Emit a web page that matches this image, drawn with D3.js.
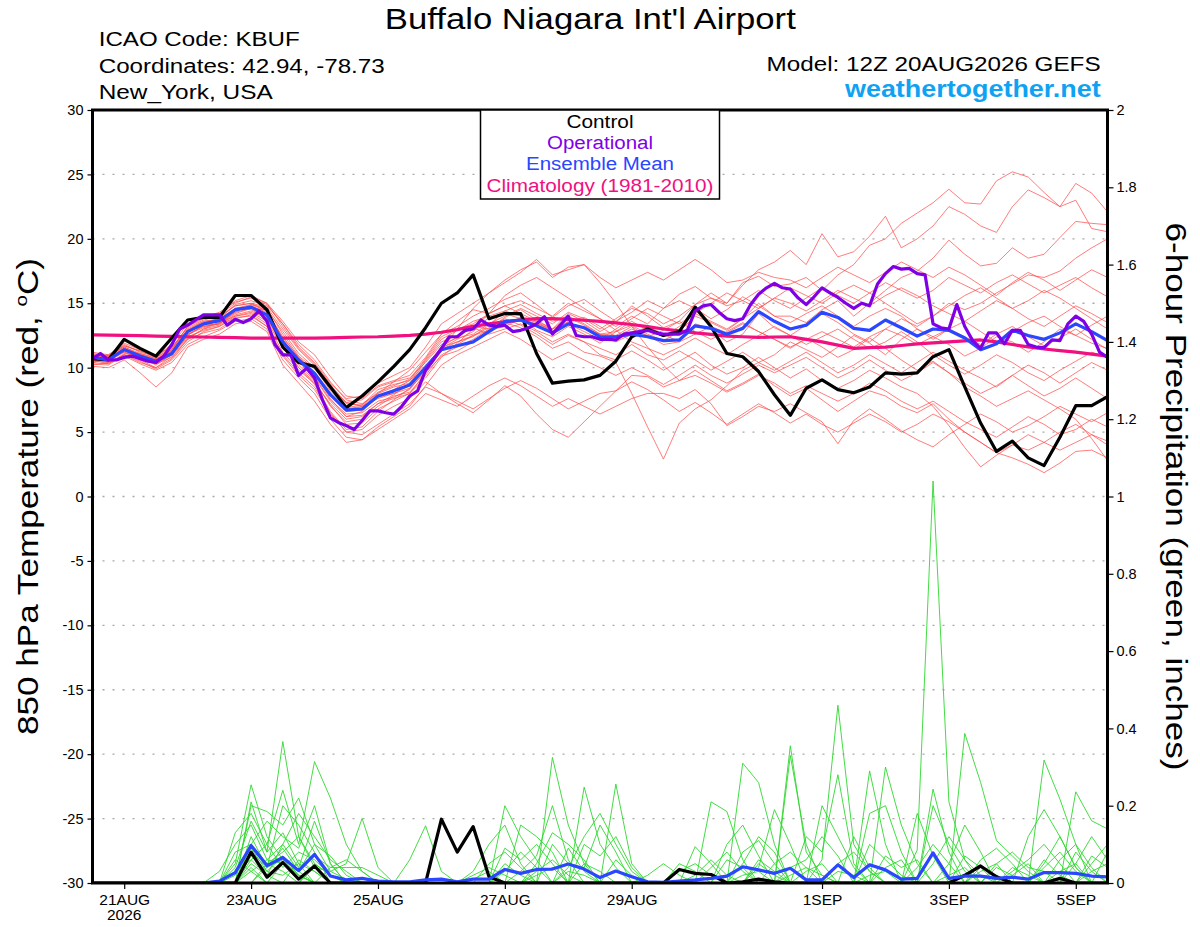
<!DOCTYPE html>
<html><head><meta charset="utf-8">
<script src="https://cdn.jsdelivr.net/npm/d3@7"></script>
<style>
body{margin:0;background:#fff}
svg{display:block}
text{font-family:"Liberation Sans",Arial,Helvetica,sans-serif}
</style>
</head><body>
<svg id="c" width="1200" height="927"></svg>
<script>
// ---------------- DATA ----------------
const runStartUTC = Date.UTC(2026, 7, 20, 12);   // first forecast step, 6-hourly steps
const tickDates = ["2026-08-21","2026-08-23","2026-08-25","2026-08-27","2026-08-29","2026-09-01","2026-09-03","2026-09-05"];
const tickLabels = ["21AUG","23AUG","25AUG","27AUG","29AUG","1SEP","3SEP","5SEP"];
const tempTicks = [-30,-25,-20,-15,-10,-5,0,5,10,15,20,25,30];
const precipTicks = [0,0.2,0.4,0.6,0.8,1,1.2,1.4,1.6,1.8,2];

// Control run 850 hPa temperature (6-hourly)
const controlTemp = [10.7,10.6,12.2,11.5,10.9,12.3,13.7,13.9,13.9,15.6,15.6,14.5,11.6,10.4,10.1,8.5,6.9,7.8,8.9,10.1,11.4,13.1,
 15.0,15.8,17.2,13.8,14.2,14.2,11.1,8.8,8.95,9.05,9.4,
 10.5,12.4,13.0,12.5,12.8,14.7,13.2,11.1,10.85,9.7,7.9,
 6.3,8.4,9.05,8.3,8.05,8.5,9.6,9.5,9.6,10.85,11.4,
 8.5,5.7,3.5,4.3,3.0,2.4,4.6,7.05,7.05,7.75];

// Operational run 850 hPa temperature (3-hourly)
const operTemp = [10.7,11.1,10.6,10.6,10.8,10.9,10.7,10.5,10.4,10.9,11.8,13.0,13.3,13.7,14.1,14.1,14.1,13.3,13.75,13.5,
 13.8,14.4,13.6,11.8,11.0,11.0,9.4,9.95,9.2,7.5,6.1,5.75,5.5,5.2,5.9,6.65,6.65,6.5,6.4,7.0,
 7.8,8.2,9.8,10.6,11.5,12.4,12.4,12.9,13.0,13.7,13.3,13.2,13.3,12.8,12.9,13.1,13.4,13.95,12.6,13.3,
 14.0,12.5,12.4,12.4,12.2,12.2,12.15,12.6,12.7,12.8,12.9,12.7,12.6,12.6,12.6,12.9,14.4,14.8,14.9,14.3,
 13.8,13.65,13.8,14.9,15.7,16.2,16.55,16.2,16.1,15.4,14.9,15.5,16.2,15.8,15.45,15.0,14.6,15.0,14.8,16.5,
 17.3,17.85,17.65,17.7,17.3,17.2,13.4,13.1,13.0,14.9,13.2,12.1,11.5,12.7,12.7,11.85,12.9,12.9,11.8,11.6,
 11.55,12.15,12.1,13.4,14.0,13.6,12.6,11.2,10.8];

// Ensemble mean 850 hPa temperature (6-hourly)
const meanTemp = [10.8,10.6,11.4,10.9,10.5,11.1,12.8,13.4,13.65,14.5,14.7,14.1,12.0,10.6,9.55,7.9,6.7,6.8,7.8,8.2,8.65,10.0,
 11.4,11.7,12.0,12.8,13.6,13.7,13.25,12.7,13.4,13.1,12.4,
 12.4,12.6,12.4,12.1,12.15,13.25,13.05,12.6,13.05,14.35,13.6,
 13.0,13.3,14.3,13.9,13.05,12.9,13.7,13.1,12.45,13.0,12.9,
 12.3,11.4,11.85,12.9,12.5,12.2,12.7,13.4,12.8,12.1];

// Climatology 1981-2010 (6-hourly)
const climTemp = [12.55,12.53,12.5,12.48,12.45,12.43,12.4,12.38,12.35,12.33,12.3,12.3,12.3,12.3,12.3,12.32,12.35,12.38,12.4,12.45,
 12.5,12.6,12.75,12.95,13.2,13.4,13.55,13.7,13.8,13.8,13.75,13.68,13.6,13.48,13.35,13.18,13.0,12.85,12.7,12.58,
 12.45,12.4,12.35,12.38,12.4,12.2,12.0,11.75,11.5,11.55,11.6,11.72,11.85,11.92,12.0,12.08,12.15,12.0,11.8,11.62,
 11.45,11.32,11.2,11.05,10.9];

// Ensemble members 850 hPa temperature (6-hourly)
const tempMembers = [
 [10.4,10.7,11.5,11.0,10.6,11.4,13.2,13.9,14.3,15.1,15.4,14.9,13.4,11.8,10.6,8.9,7.5,7.2,8.0,8.9,9.8,11.2,
  12.6,13.2,14.0,14.6,15.3,15.8,14.9,13.9,14.8,15.3,14.4, 13.6,14.3,15.2,14.6,15.7,16.3,15.4,15.0,16.6,17.1,16.3,
  16.5,17.0,16.0,17.2,18.0,19.5,20.0,21.2,22.0,22.8,23.85, 22.8,22.7,24.5,25.2,24.8,23.6,22.5,24.3,23.55,22.1],
 [10.9,10.5,11.2,10.8,10.2,11.0,12.5,13.3,13.9,14.8,15.0,14.4,12.2,10.5,9.2,7.4,6.2,6.3,7.2,7.9,8.8,10.5,
  12.0,12.5,13.2,13.0,13.9,14.5,13.7,13.0,14.2,13.6,12.8, 13.5,14.8,14.0,13.1,13.6,14.9,15.8,15.0,16.4,17.6,18.2,
  19.1,18.0,20.4,18.6,19.0,20.2,21.75,19.3,20.0,21.0,22.5, 21.9,21.0,20.5,22.5,23.8,23.2,22.5,23.0,20.8,20.55],
 [11.0,10.9,11.8,11.2,10.9,11.6,12.9,13.2,13.4,14.2,14.6,14.5,12.8,11.1,10.0,8.2,6.9,7.1,8.3,8.7,9.0,10.2,
  11.5,12.2,12.8,13.9,14.2,13.8,12.9,12.4,13.2,12.6,11.9, 12.8,13.3,12.6,12.1,12.8,14.0,13.5,12.9,13.8,15.0,14.0,
  14.0,13.5,14.5,15.2,14.0,15.0,16.0,17.0,17.5,18.5,19.9, 18.8,17.9,18.1,19.3,18.5,18.8,20.1,21.35,21.2,21.1],
 [10.6,10.4,11.0,10.7,10.3,10.8,12.2,13.0,13.5,14.3,14.9,14.6,12.6,10.9,9.9,8.4,7.3,7.0,7.6,8.0,8.4,9.6,
  10.9,11.3,12.0,12.9,13.4,13.9,13.5,12.8,13.6,13.9,13.2, 12.4,13.0,12.5,11.8,12.0,13.4,13.0,12.0,12.6,14.2,13.1,
  12.5,13.3,14.2,13.5,12.6,12.0,13.0,13.8,13.2,14.0,15.0, 14.5,15.0,15.8,16.5,17.2,17.0,17.5,18.5,19.3,20.0],
 [10.7,10.9,11.6,11.0,10.4,11.2,12.6,13.1,13.5,14.0,14.3,13.6,11.5,10.2,9.0,7.0,5.8,6.0,7.0,7.8,8.1,9.4,
  11.0,11.6,12.2,13.0,13.5,13.1,12.4,11.5,12.0,11.2,10.9, 10.4,8.0,5.4,2.9,5.7,6.8,7.5,8.6,9.8,10.4,11.0,
  12.0,11.4,10.8,11.6,12.5,11.9,11.0,12.2,13.0,12.4,11.8, 10.9,11.5,12.4,12.0,11.2,12.0,13.0,12.5,11.9,11.5],
 [10.3,10.2,11.0,10.5,9.9,10.6,12.0,12.8,13.2,13.9,14.0,13.2,11.0,9.6,8.5,6.5,5.0,4.8,5.6,6.4,7.2,8.5,
  8.0,7.2,6.5,7.5,8.6,7.8,6.4,5.2,4.6,5.8,7.0, 8.2,9.4,9.3,8.5,9.0,9.8,9.0,8.2,8.8,9.5,8.6,
  7.8,8.4,7.5,6.6,7.4,8.2,7.8,7.0,6.5,7.2,6.0, 5.0,4.2,3.4,3.0,2.5,1.85,2.6,3.5,3.6,3.0],
 [10.9,10.7,11.3,11.1,10.7,11.3,12.9,13.6,13.7,14.6,14.5,13.9,11.8,10.0,8.7,6.6,5.2,5.4,6.6,7.5,8.4,9.9,
  11.6,12.4,13.1,12.6,13.0,13.4,12.8,12.0,12.6,12.0,11.0, 10.6,11.3,10.6,9.8,10.5,11.2,10.2,9.5,10.0,10.8,10.0,
  9.2,9.9,9.0,8.4,9.0,9.8,9.2,8.5,8.0,7.0,5.5, 3.8,2.3,3.2,4.0,3.6,4.2,5.0,5.6,4.8,4.3],
 [10.5,10.6,11.4,10.8,10.6,11.0,12.5,13.3,13.4,14.4,14.8,14.3,12.4,10.8,9.6,7.6,6.2,6.6,7.8,8.3,9.0,10.6,
  12.2,12.9,13.6,14.0,14.4,14.0,13.6,13.0,13.9,13.3,12.6, 12.5,13.2,12.4,12.9,13.6,12.8,12.2,12.8,13.5,12.8,12.2,
  11.5,12.3,11.6,10.8,11.4,12.3,11.5,10.6,9.8,10.5,9.6, 8.5,7.8,7.0,7.6,8.2,7.5,6.8,6.0,4.5,2.8],
 [11.2,11.0,11.9,11.4,10.9,11.8,13.4,14.0,14.2,15.2,15.6,15.0,13.6,12.0,11.0,9.3,7.8,7.6,8.6,9.0,9.4,10.8,
  12.6,13.6,14.5,14.2,14.8,15.2,14.6,14.0,15.0,14.4,13.8, 13.2,14.0,13.4,14.6,15.2,14.6,13.8,14.5,15.5,14.8,14.0,
  13.5,14.2,14.8,14.0,13.2,14.0,14.6,14.0,13.0,12.2,13.0, 13.6,12.8,12.0,12.8,13.5,14.0,13.2,12.5,13.3,14.0],
 [10.2,10.4,10.9,10.3,9.8,10.4,11.8,12.4,12.9,13.6,13.8,13.0,10.6,9.2,8.0,6.0,4.6,4.4,5.2,6.0,6.8,8.0,
  7.5,7.0,7.8,8.6,9.2,8.6,7.8,7.0,7.6,7.0,6.4, 7.0,7.6,8.0,8.0,7.6,8.3,7.2,5.5,6.2,7.0,6.6,
  7.2,6.5,5.8,4.1,5.9,6.8,6.0,5.1,4.4,3.85,4.8, 5.6,6.4,5.8,5.0,5.5,6.2,7.0,6.4,5.8,6.5],
 [10.6,10.3,11.1,10.9,10.5,11.0,12.4,12.9,13.2,14.0,14.2,13.4,11.2,9.8,8.8,7.2,6.0,6.2,7.2,7.6,8.0,9.2,
  10.8,11.9,13.0,14.2,15.6,16.4,17.0,16.2,15.4,14.6,13.8, 12.9,12.0,11.5,11.0,11.6,12.3,11.6,11.0,11.8,12.5,13.2,
  12.5,11.8,12.4,13.0,12.2,11.5,12.0,12.8,12.0,11.0,10.2, 9.5,10.2,11.0,10.4,9.6,9.0,9.8,10.5,11.2,10.8],
 [10.8,11.0,11.7,11.3,11.0,11.6,13.1,13.7,14.0,14.8,15.0,14.7,13.0,11.4,10.2,8.6,7.3,7.5,8.5,8.9,9.2,10.4,
  11.8,12.3,12.6,13.4,14.0,14.6,14.0,13.4,14.3,13.8,13.0, 13.8,14.6,14.2,13.4,14.0,14.9,15.4,14.8,15.2,16.0,15.2,
  14.6,15.4,16.2,15.6,15.0,15.8,16.6,16.0,15.4,16.0,17.0, 16.4,15.8,16.6,17.2,16.5,15.8,16.4,17.0,16.2,15.5],
 [10.4,10.8,11.2,10.6,10.0,10.9,12.3,13.0,13.3,14.1,14.4,13.8,11.9,10.4,9.3,7.5,6.4,6.5,7.4,7.7,8.3,9.8,
  11.3,11.8,12.5,13.1,13.8,13.3,12.6,11.8,12.5,12.0,11.5, 11.0,11.8,11.0,10.6,11.3,10.6,9.8,10.5,11.2,10.4,9.8,
  10.5,11.2,10.4,9.6,10.2,11.0,10.3,9.6,10.4,11.2,10.5, 9.8,9.2,8.5,9.4,10.2,9.6,8.8,9.6,10.4,9.8],
 [11.0,10.8,11.5,11.0,10.6,11.3,12.8,13.4,13.6,14.6,14.9,14.4,12.3,10.8,9.7,8.0,6.8,7.0,8.0,8.5,8.8,10.1,
  11.6,12.0,12.4,13.3,14.4,14.9,14.2,13.6,14.0,13.4,12.6, 12.8,13.6,12.9,12.4,13.2,14.2,13.6,13.0,13.8,14.6,15.4,
  15.0,14.4,15.2,16.0,15.4,14.8,15.6,16.2,15.6,14.8,14.2, 13.6,14.4,15.2,14.6,13.8,13.2,14.0,14.8,14.2,13.5],
 [10.6,10.5,11.3,10.7,10.3,11.0,12.6,13.2,13.4,14.3,14.6,13.8,11.6,10.0,8.9,7.1,5.6,5.7,6.8,7.4,8.0,9.6,
  11.4,13.0,14.6,15.8,16.8,17.6,18.2,17.0,17.8,18.0,16.6, 15.0,13.2,11.6,10.2,9.0,9.4,8.8,8.1,8.7,9.4,8.8,
  8.0,8.6,8.0,7.4,8.0,8.8,8.2,7.4,6.8,7.4,6.6, 5.8,5.2,4.6,5.4,6.2,5.6,4.8,5.2,6.0,5.4],
 [10.9,10.6,11.4,11.0,10.7,11.2,12.9,13.5,13.8,14.6,14.7,14.0,12.0,10.6,9.5,7.8,6.6,6.7,7.7,8.0,8.6,9.9,
  11.4,12.0,12.5,12.9,13.2,13.8,13.4,13.0,13.5,13.0,12.6, 12.0,12.6,13.2,12.6,12.0,12.6,13.2,12.7,13.4,12.8,12.2,
  11.6,12.2,12.8,12.2,11.6,12.4,13.0,12.5,11.8,12.4,13.0, 12.4,11.8,12.6,13.2,12.4,11.7,12.3,13.0,12.2,11.4],
 [10.1,10.0,10.6,9.6,8.5,9.6,11.6,12.2,12.6,13.4,13.6,12.8,10.2,8.8,7.4,5.6,4.2,4.4,5.4,6.2,7.0,8.6,
  10.2,11.0,11.6,12.2,12.8,12.2,11.4,10.6,11.2,10.6,10.0, 9.4,10.0,9.4,8.7,9.4,10.2,9.4,8.8,9.5,10.2,9.6,
  10.2,10.8,10.0,9.2,9.8,10.6,9.8,9.0,9.6,10.4,9.6, 8.8,8.0,8.6,9.4,8.6,7.8,8.4,9.2,8.4,7.6],
 [10.8,10.9,11.6,11.1,10.8,11.4,13.0,13.6,13.8,14.9,15.2,14.8,13.4,11.6,10.4,8.8,7.6,7.8,8.8,9.4,10.0,11.6,
  13.4,14.2,15.0,15.8,16.6,17.4,18.4,17.2,17.6,18.0,17.0, 16.2,16.8,17.4,16.8,17.6,18.4,17.6,16.6,16.8,17.4,17.0,
  16.8,16.2,17.0,17.8,17.2,16.6,17.4,18.2,17.6,17.0,17.8, 17.2,16.4,15.6,16.6,17.4,16.8,16.0,16.8,17.6,17.0],
 [10.4,10.3,11.0,10.4,10.0,10.7,12.2,12.7,13.0,13.8,14.1,13.2,10.9,9.4,8.3,6.4,5.0,5.2,6.3,7.0,7.6,8.9,
  8.0,7.4,6.8,7.6,8.4,9.0,8.4,7.6,6.8,7.4,8.0, 8.2,8.9,8.3,7.5,6.6,7.3,6.5,5.6,6.4,7.2,6.5,
  5.7,6.4,5.6,5.0,5.7,6.4,5.8,5.0,5.6,6.4,5.8, 5.0,4.2,3.4,4.0,4.8,4.2,3.6,4.2,4.8,4.0],
 [11.1,10.9,11.7,11.3,10.8,11.5,13.2,13.8,14.1,15.0,15.5,15.0,13.2,11.5,10.3,8.7,7.2,7.1,8.1,8.6,9.1,10.7,
  12.4,13.0,13.4,14.2,14.8,14.2,13.6,12.8,13.4,12.8,12.2, 13.0,13.8,14.6,14.0,13.4,14.2,15.0,15.8,15.2,14.6,15.4,
  16.2,15.6,15.0,15.8,16.4,15.8,15.0,14.2,13.4,14.0,14.8, 15.6,16.2,15.4,14.6,15.2,16.0,15.4,14.6,13.8,13.0]
];

// 6-hour precipitation (inches): control and ensemble mean (6-hourly)
const controlPrecip = [0,0,0,0,0,0,0,0,0,0,0.08,0.015,0.053,0.01,0.044,0,0,0,0,0,0,0,
 0.165,0.08,0.146,0.016,0,0,0,0,0,0,0, 0,0,0,0,0.035,0.025,0.022,0,0.003,0.01,0.003,
 0,0,0,0,0,0,0,0,0,0,0, 0.02,0.044,0.016,0,0,0,0.012,0,0,0];
const meanPrecip = [0,0,0,0,0,0,0,0,0.005,0.027,0.097,0.045,0.066,0.032,0.074,0.018,0.008,0.012,0.005,0.003,0.003,0.008,
 0.01,0.003,0.01,0.01,0.035,0.025,0.035,0.036,0.049,0.036,0.014, 0.031,0.016,0.003,0.002,0.005,0.008,0.012,0.018,0.042,0.034,0.025,
 0.038,0.008,0.008,0.047,0.014,0.047,0.034,0.01,0.012,0.078,0.012, 0.018,0.018,0.012,0.015,0.01,0.027,0.027,0.025,0.018,0.016];

// Ensemble members precipitation: [forecast step, inches]; all other steps are 0
const precipMembers = [
 [[9,.05],[10,.254],[11,.12],[12,.06],[13,.02],[26,.03],[27,.08],[28,.04],[41,.05],[42,.12],[43,.08],[52,.085],[53,1.04],[54,.21],[55,.06],[56,.02]],
 [[10,.21],[11,.08],[12,.366],[13,.12],[14,.05],[15,.02],[29,.325],[30,.15],[31,.05],[46,.06],[47,.46],[48,.1],[49,.03],[60,.05],[61,.12],[62,.04]],
 [[9,.13],[10,.18],[11,.1],[12,.24],[13,.1],[14,.314],[15,.22],[16,.1],[17,.03],[33,.256],[34,.05],[44,.355],[45,.08],[46,.02],[55,.387],[56,.26],[57,.11],[58,.07],[59,.03]],
 [[10,.2],[11,.185],[12,.15],[13,.22],[14,.1],[15,.03],[16,.05],[17,.167],[18,.04],[31,.248],[32,.1],[33,.04],[39,.21],[40,.185],[41,.06],[49,.29],[50,.1],[60,.318],[61,.217],[62,.1],[63,.04]],
 [[8,.03],[9,.1],[10,.15],[11,.06],[12,.1],[13,.04],[14,.16],[15,.05],[20,.06],[21,.148],[22,.03],[26,.2],[27,.12],[28,.06],[41,.31],[42,.26],[43,.1],[53,.243],[54,.08],[62,.236],[63,.161],[64,.14]],
 [[10,.12],[11,.04],[12,.2],[13,.15],[14,.08],[24,.03],[25,.1],[26,.15],[27,.05],[30,.04],[31,.12],[32,.18],[33,.1],[34,.03],[38,.094],[39,.05],[44,.33],[45,.1],[50,.3],[51,.15],[52,.05],[56,.04],[57,.02],[63,.05],[64,.1]],
 [[9,.08],[10,.1],[11,.16],[12,.12],[13,.09],[14,.2],[15,.05],[27,.15],[28,.12],[29,.08],[42,.04],[43,.19],[44,.1],[49,.18],[50,.2],[51,.08],[59,.12],[60,.19],[61,.12],[62,.04]],
 [[10,.08],[11,.04],[12,.06],[13,.03],[14,.07],[15,.04],[16,.04],[17,.04],[18,.02],[28,.05],[29,.13],[30,.1],[31,.06],[37,.03],[38,.05],[39,.02],[45,.12],[46,.08],[47,.28],[48,.05],[53,.2],[54,.1],[55,.03],[62,.08],[63,.03]],
 [[10,.05],[11,.02],[12,.1],[13,.18],[14,.12],[15,.06],[16,.03],[29,.1],[30,.05],[31,.04],[32,.15],[33,.08],[40,.1],[41,.15],[42,.07],[52,.18],[53,.07],[57,.05],[58,.08],[59,.04],[60,.03]],
 [[9,.04],[10,.16],[11,.08],[12,.13],[13,.05],[26,.09],[27,.06],[28,.1],[29,.05],[35,.02],[36,.05],[37,.02],[43,.05],[44,.08],[45,.04],[48,.12],[49,.04],[56,.06],[57,.09],[58,.05],[61,.06],[62,.1]],
 [[10,.06],[11,.1],[12,.04],[13,.08],[14,.06],[15,.02],[31,.1],[32,.07],[33,.12],[34,.04],[41,.08],[42,.11],[43,.05],[46,.2],[47,.12],[48,.04],[54,.05],[55,.15],[56,.08],[63,.07],[64,.04]],
 [[9,.02],[10,.09],[11,.03],[12,.07],[13,.02],[15,.04],[16,.06],[17,.03],[25,.05],[26,.08],[27,.04],[30,.09],[31,.03],[39,.04],[40,.08],[41,.03],[50,.07],[51,.04],[52,.06],[58,.03],[59,.06],[60,.1],[61,.05]],
 [[11,.05],[12,.08],[13,.12],[14,.04],[27,.03],[28,.07],[29,.2],[30,.06],[44,.04],[45,.06],[46,.12],[47,.07],[53,.05],[54,.12],[55,.06],[62,.05],[63,.12],[64,.06]],
 [[10,.03],[11,.06],[12,.05],[13,.03],[14,.1],[15,.07],[16,.02],[24,.02],[25,.04],[26,.02],[33,.06],[34,.02],[37,.05],[38,.03],[42,.06],[43,.03],[49,.1],[50,.06],[51,.02],[57,.04],[58,.02],[59,.05]],
 [[10,.07],[11,.03],[12,.02],[13,.05],[14,.03],[28,.03],[29,.06],[30,.02],[40,.06],[41,.04],[47,.05],[48,.08],[49,.03],[55,.07],[56,.04],[60,.04],[61,.08],[62,.03]],
 [[10,.1],[11,.05],[12,.03],[14,.05],[15,.02],[31,.05],[32,.03],[45,.03],[46,.05],[52,.04],[53,.1],[54,.05],[64,.08]],
 [[9,.03],[10,.06],[11,.02],[13,.06],[14,.03],[26,.05],[27,.02],[42,.05],[43,.02],[50,.04],[51,.06],[58,.04],[59,.02]],
 [[11,.04],[12,.09],[13,.03],[28,.02],[29,.04],[38,.02],[39,.06],[40,.02],[47,.03],[48,.02],[56,.03],[57,.05],[63,.03],[64,.05]],
 [[10,.04],[12,.05],[13,.02],[30,.03],[31,.02],[44,.02],[45,.04],[46,.02],[54,.02],[55,.04],[60,.06],[61,.02]],
 [[9,.06],[10,.03],[14,.04],[15,.03],[16,.01],[24,.01],[25,.03],[41,.02],[42,.03],[49,.02],[50,.03],[61,.03],[62,.05]]
];

const legendItems = [
 {label:"Control", color:"#000000"},
 {label:"Operational", color:"#8000e6"},
 {label:"Ensemble Mean", color:"#2a46ff"},
 {label:"Climatology (1981-2010)", color:"#f0107f"}
];

// ---------------- CHART ----------------
const NSTEPS = 65;
const H6 = 6*3600*1000, H3 = 3*3600*1000;
const L = 92.5, R = 1107.5, T = 110, B = 883;

const svg = d3.select("#c");
const x = d3.scaleUtc().domain([new Date(runStartUTC), new Date(runStartUTC + (NSTEPS-1)*H6)]).range([L, R]);
const yT = d3.scaleLinear().domain([-30, 30]).range([B, T]);
const yP = d3.scaleLinear().domain([0, 2]).range([B, T]);

svg.append("defs").append("clipPath").attr("id","plotclip")
  .append("rect").attr("x",L).attr("y",T).attr("width",R-L).attr("height",B-T);

// grid
svg.append("g").selectAll("line").data(tempTicks.filter(v => v > -30 && v < 30)).join("line")
  .attr("x1", L).attr("x2", R).attr("y1", d => yT(d)).attr("y2", d => yT(d))
  .attr("stroke", "#a8a8a8").attr("stroke-width", 1.3).attr("stroke-dasharray", "2,8");

const plot = svg.append("g").attr("clip-path","url(#plotclip)");
const step6 = i => new Date(runStartUTC + i*H6);
const step3 = i => new Date(runStartUTC + i*H3);
const lineT6 = d3.line().x((d,i) => x(step6(i))).y(d => yT(d));
const lineT3 = d3.line().x((d,i) => x(step3(i))).y(d => yT(d));
const lineP6 = d3.line().x((d,i) => x(step6(i))).y(d => yP(d));

const expand = pairs => { const a = new Array(NSTEPS).fill(0); pairs.forEach(([i,v]) => a[i] = v); return a; };

plot.append("g").selectAll("path").data(tempMembers).join("path")
  .attr("d", lineT6).attr("fill","none").attr("stroke","#ff4a4a").attr("stroke-opacity",0.8).attr("stroke-width",0.9);

plot.append("g").selectAll("path").data(precipMembers.map(expand)).join("path")
  .attr("d", lineP6).attr("fill","none").attr("stroke","#2fd82f").attr("stroke-width",0.9);

const thick = (g, d, gen, color) => g.append("path").datum(d).attr("d", gen).attr("fill","none")
  .attr("stroke", color).attr("stroke-width", 3.2).attr("stroke-linejoin","round");

thick(plot, climTemp, lineT6, "#f0107f");
thick(plot, controlTemp, lineT6, "#000000");
thick(plot, controlPrecip, lineP6, "#000000");
thick(plot, meanPrecip, lineP6, "#2a46ff");
thick(plot, meanTemp, lineT6, "#2a46ff");
thick(plot, operTemp, lineT3, "#8000e6");

// axes
const tickFont = g => g.selectAll("text").attr("font-family","'Liberation Sans',Arial,sans-serif").attr("fill","#000");
const ax = svg.append("g").attr("transform",`translate(${L},0)`)
  .call(d3.axisLeft(yT).tickValues(tempTicks).tickFormat(d => String(d)).tickSize(5).tickPadding(4));
ax.select(".domain").remove(); ax.selectAll("text").attr("font-size",14.5); tickFont(ax);
ax.selectAll("line").attr("stroke-width",1.2);

const axr = svg.append("g").attr("transform",`translate(${R},0)`)
  .call(d3.axisRight(yP).tickValues(precipTicks).tickFormat(d => String(Math.round(d*10)/10)).tickSize(6).tickPadding(3));
axr.select(".domain").remove(); axr.selectAll("text").attr("font-size",14.5); tickFont(axr);
axr.selectAll("line").attr("stroke-width",1.2);

const tickDateObjs = tickDates.map(s => new Date(s + "T00:00:00Z"));
const axb = svg.append("g").attr("transform",`translate(0,${B})`)
  .call(d3.axisBottom(x).tickValues(tickDateObjs).tickFormat((d,i) => tickLabels[i]).tickSize(6).tickPadding(5));
axb.select(".domain").remove(); axb.selectAll("text").attr("font-size",15.5); tickFont(axb);
axb.selectAll("line").attr("stroke-width",1.2);
svg.append("text").attr("x", x(tickDateObjs[0])).attr("y", 920).attr("text-anchor","middle")
  .attr("font-size",15.5).text("2026");

// frame
svg.append("rect").attr("x",L).attr("y",T).attr("width",R-L).attr("height",B-T)
  .attr("fill","none").attr("stroke","#000").attr("stroke-width",3);

// legend
const lg = svg.append("g");
lg.append("rect").attr("x",480.5).attr("y",T).attr("width",239).attr("height",89)
  .attr("fill","#fff").attr("stroke","#000").attr("stroke-width",1.5);
const legendLens = [67,106,148,227];
lg.selectAll("text").data(legendItems).join("text")
  .attr("x",600).attr("y",(d,i) => 128 + i*21.2).attr("text-anchor","middle")
  .attr("font-size",18).attr("fill", d => d.color)
  .attr("textLength",(d,i) => legendLens[i]).attr("lengthAdjust","spacingAndGlyphs")
  .text(d => d.label);

// titles
const txt = (s, xx, yy, size, anchor, len, extra) => {
  const t = svg.append("text").attr("x",xx).attr("y",yy).attr("font-size",size).attr("text-anchor",anchor)
    .attr("textLength",len).attr("lengthAdjust","spacingAndGlyphs").text(s);
  if (extra) extra(t);
  return t;
};
txt("Buffalo Niagara Int'l Airport", 590.3, 29.3, 29, "middle", 411);
txt("ICAO Code: KBUF", 98.7, 45.7, 20, "start", 201);
txt("Coordinates: 42.94, -78.73", 98.7, 72.5, 20, "start", 286);
txt("New_York, USA", 98.7, 99, 20, "start", 174);
txt("Model: 12Z 20AUG2026 GEFS", 1100.6, 70.7, 20, "end", 334);
txt("weathertogether.net", 1100.6, 96.5, 23, "end", 255.6, t => t.attr("font-weight","bold").attr("fill","#10a2f2"));

// axis titles
const lt = svg.append("text").attr("transform","translate(38,496.5) rotate(-90)").attr("text-anchor","middle")
  .attr("font-size",29).attr("textLength",477).attr("lengthAdjust","spacingAndGlyphs");
lt.append("tspan").text("850 hPa Temperature (red, ");
lt.append("tspan").attr("font-size",17).attr("dy",-11).text("o");
lt.append("tspan").attr("dy",11).text("C)");

svg.append("text").attr("transform","translate(1166,496.5) rotate(90)").attr("text-anchor","middle")
  .attr("font-size",29).attr("textLength",548).attr("lengthAdjust","spacingAndGlyphs")
  .text("6-hour Precipitation (green, inches)");
</script>
</body></html>
